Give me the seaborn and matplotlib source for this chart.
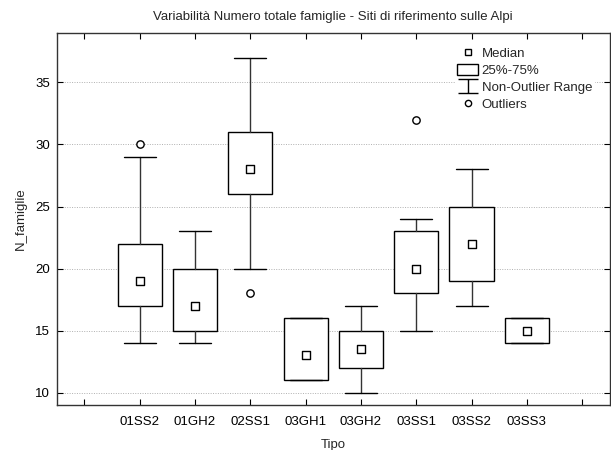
import matplotlib
matplotlib.use("Agg")
import matplotlib.pyplot as plt
from matplotlib.lines import Line2D
from matplotlib.patches import Rectangle
from matplotlib.path import Path
import pandas as pd
import seaborn as sns

# ---------- DATA ----------
tipo = ["01SS2", "01GH2", "02SS1", "03GH1", "03GH2", "03SS1", "03SS2", "03SS3"]
median = [19, 17, 28, 13, 13.5, 20, 22, 15]
q1 = [17, 15, 26, 11, 12, 18, 19, 14]
q3 = [22, 20, 31, 16, 15, 23, 25, 16]
whis_lo = [14, 14, 20, 11, 10, 15, 17, 14]
whis_hi = [29, 23, 37, 16, 17, 24, 28, 16]
outliers = [[30], [], [18], [], [], [32], [], []]

sns.set_theme(style="ticks")
plt.rcParams["font.family"] = ["Liberation Sans", "DejaVu Sans"]

fig = plt.figure(figsize=(6.11, 4.5), dpi=100)
ax = fig.add_axes([0.093, 0.10, 0.905, 0.827])

pos = list(range(1, len(tipo) + 1))
stats = [
    dict(med=m, q1=a, q3=b, whislo=lo, whishi=hi, fliers=[], label=t)
    for t, m, a, b, lo, hi in zip(tipo, median, q1, q3, whis_lo, whis_hi)
]
ax.bxp(stats, positions=pos, widths=0.8, capwidths=0.58, showfliers=False,
       patch_artist=True,
       boxprops=dict(facecolor="white", edgecolor="black", linewidth=1.0),
       whiskerprops=dict(color="#333333", linewidth=1.0),
       capprops=dict(color="black", linewidth=1.0),
       medianprops=dict(linewidth=0), zorder=3)

# medians and outliers through seaborn
med_df = pd.DataFrame({"x": pos, "y": median})
sns.scatterplot(data=med_df, x="x", y="y", marker="s", s=28, facecolor="white",
                edgecolor="black", linewidth=1.0, ax=ax, zorder=4)
out_x = [p for p, o in zip(pos, outliers) for _ in o]
out_y = [v for o in outliers for v in o]
out_df = pd.DataFrame({"x": out_x, "y": out_y})
sns.scatterplot(data=out_df, x="x", y="y", marker="o", s=28, facecolor="white",
                edgecolor="black", linewidth=1.0, ax=ax, zorder=4)

ax.set_xlim(-0.5, 9.5)
ax.set_ylim(9, 39)
ax.set_xticks(range(0, 10))
ax.set_xticklabels([""] + tipo + [""])
ax.set_yticks([10, 15, 20, 25, 30, 35])
ax.tick_params(direction="in", top=True, right=True, length=4, width=0.8,
               labelsize=9.5, colors="black")
ax.tick_params(axis="x", pad=8)
ax.tick_params(axis="y", pad=5)
ax.yaxis.grid(True, linestyle=(0, (1, 1.5)), color="#b0b0b0", linewidth=0.7)
ax.set_axisbelow(True)
for sp in ax.spines.values():
    sp.set_color("#333333")
    sp.set_linewidth(1.0)

ax.set_xlabel("Tipo", fontsize=9.5, labelpad=8)
ax.set_ylabel("N_famiglie", fontsize=9.5, labelpad=6)
ax.set_title("Variabilità Numero totale famiglie - Siti di riferimento sulle Alpi",
             fontsize=9.5, pad=9)

# legend
whisker_path = Path([(-1, 0.67), (1, 0.67), (0, 0.67), (0, -0.67), (-1, -0.67), (1, -0.67)],
                    [Path.MOVETO, Path.LINETO, Path.MOVETO, Path.LINETO,
                     Path.MOVETO, Path.LINETO])
handles = [
    Line2D([], [], marker="s", linestyle="none", markersize=4.5,
           markerfacecolor="white", markeredgecolor="black"),
    Rectangle((0, 0), 1, 1, facecolor="white", edgecolor="black", linewidth=1.0),
    Line2D([], [], marker=whisker_path, linestyle="none", markersize=15,
           markerfacecolor="none", markeredgecolor="black", markeredgewidth=1.0),
    Line2D([], [], marker="o", linestyle="none", markersize=4.5,
           markerfacecolor="white", markeredgecolor="black"),
]
leg = ax.legend(handles, ["Median", "25%-75%", "Non-Outlier Range", "Outliers"],
                loc="upper right", bbox_to_anchor=(0.985, 0.987), frameon=True,
                fontsize=9.5, handlelength=1.55, handleheight=0.95,
                handletextpad=0.3, labelspacing=0.28, borderpad=0.2)
leg.get_frame().set_edgecolor("none")
leg.get_frame().set_facecolor("white")
leg.get_frame().set_alpha(1)

fig.savefig("out.png", dpi=100)
